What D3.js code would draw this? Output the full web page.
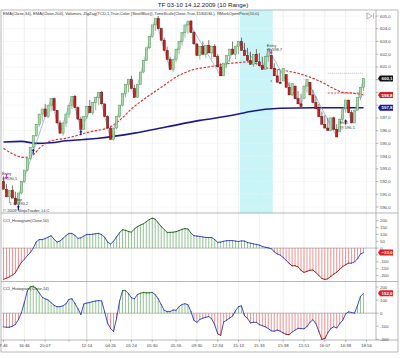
<!DOCTYPE html>
<html><head><meta charset="utf-8">
<script src="https://cdn.jsdelivr.net/npm/d3@7"></script>
<style>body{margin:0;background:#fff}svg{display:block;font-family:"Liberation Sans",Arial,sans-serif}</style>
</head><body><svg id="c" width="400" height="358"></svg>
<script>
// ---------- data ----------
const closes = [
 591.4,590.8,591.3,590.7,590.2,
 591.1,592.0,592.9,593.8,594.7,595.6,596.5,597.3,597.7,597.1,598.0,598.5,
 597.6,596.6,595.8,
 596.6,597.3,598.0,598.7,
 597.8,596.9,596.1,
 597.1,597.9,597.4,598.2,598.6,599.0,
 598.1,597.1,596.2,595.3,
 596.2,597.1,598.0,598.9,599.6,600.0,599.3,598.6,
 599.6,600.6,601.5,602.5,603.4,604.3,604.8,
 604.0,603.1,602.3,601.6,600.8,
 601.6,602.4,603.0,603.7,604.3,604.6,
 603.7,602.8,601.9,602.6,602.0,602.7,602.1,602.6,601.8,601.0,600.3,
 601.3,601.9,602.4,602.0,602.6,603.0,
 602.3,601.9,601.5,601.2,602.0,601.4,601.1,600.8,601.8,602.4,
 600.9,600.3,599.8,599.7,600.9,599.4,598.8,599.7,598.5,598.1,597.9,
 599.5,600.0,
 598.8,598.2,597.7,597.1,596.5,596.2,596.0,
 597.0,596.1,595.5,
 596.9,597.7,598.4,597.4,596.6,597.6,598.6,599.4,600.1
];
const ema34 = [[0,594.6],[7,593.9],[10,594.1],[12,594.6],[16,595.2],[21,595.4],[29,595.9],[36,596.3],[39,596.8],[43,597.7],[48,598.6],[53,599.4],[58,600.2],[64,600.8],[69,601.0],[77,601.3],[83,601.4],[87,601.0],[92,600.8],[99,600.5],[103,600.2],[107,599.8],[111,599.3],[114,599.0],[117,598.95],[121,598.8]];
const ema204 = [[0,595.1],[6,595.15],[11,595.0],[16,595.05],[21,595.2],[27,595.3],[32,595.4],[44,595.8],[55,596.3],[66,596.8],[77,597.2],[83,597.5],[93,597.75],[104,597.8],[121,597.8]];
const zigzag = [[4,590.2],[16,598.5],[19,595.8],[23,598.7],[26,596.1],[32,599.0],[36,595.3],[42,600.0],[44,598.6],[51,604.8],[56,600.8],[62,604.6],[73,600.3],[79,603.0],[87,600.8],[89,602.4],[100,597.9],[102,600.0],[112,595.5],[115,598.4],[117,596.6],[121,600.1]];
const cci50 = [-228,-220,-210,-197,-180,-140,-105,-82,-56,-33,0,45,62,62,70,80,90,65,44,52,70,92,107,107,93,71,75,88,100,100,101,105,107,98,79,44,30,50,82,112,134,130,121,116,140,156,168,177,193,208,219,211,184,158,136,115,115,116,120,128,137,142,140,110,91,88,85,81,78,77,77,62,42,44,50,54,55,55,51,48,53,51,41,36,31,27,21,12,6,2,-4,-27,-42,-51,-69,-89,-112,-129,-129,-137,-163,-177,-170,-162,-160,-178,-200,-222,-229,-224,-207,-190,-176,-155,-135,-121,-110,-110,-100,-78,-43,-33];
const cci14 = [-105,-108,-108,-100,-86,-50,2,80,170,202,206,190,155,122,110,101,80,60,49,50,56,72,105,110,75,35,-10,70,78,81,89,93,96,93,10,-78,-118,-140,-40,90,172,172,150,118,110,142,152,158,155,156,158,142,110,66,22,12,12,24,22,50,66,72,64,12,-55,-70,-48,-38,-32,-26,-44,-90,-158,-170,-68,-54,-38,-22,20,50,55,-20,-40,-75,-70,-70,-88,-96,-104,-118,-135,-138,-130,-138,-152,-162,-164,-145,-130,-116,-118,-120,-103,-70,-50,-80,-140,-200,-195,-150,-118,-104,-113,-80,-55,-5,10,5,0,60,128,152];
const priceTicks = [605,604,603,602,601,600,599,598,597,596,595,594,593,592,591,590];
const cci50Ticks = [200,150,100,50,0,-50,-100,-150,-200];
const cci14Ticks = [200,100,0,-100,-200];
const timeTickBars = [0,7,14,22,28,36,43,50,58,65,72,79,86,94,101,108,115,122];
const timeTickLabels = ["7:46","16:46","20:07","","12:14","04:26","05:24","05:30","05:56","09:30","12:34","15:13","15:33","15:38","15:51","16:07","16:38","18:56"];
const sessionBand = [80,90];
const markLines = [{from:109,to:121,price:600.5,kind:"grey"},{from:109,to:121,price:598.95,kind:"red"}];
const titleText = "TF 03-10  14.12.2009 (10 Range)";
const headerText = "EMA(Close,34), EMA(Close,204), Volumes, ZigZag(TCD,1,True,Color (SteelBlue)), TimeScale(Close,True,1530DSL), RMarkOpenPrice(10,0)";

// ---------- layout ----------
const svg = d3.select("#c");
const X0 = 2, X1 = 376;
const main = {y0:10, y1:213}, p1 = {y0:213, y1:281}, p2 = {y0:282, y1:340};
const x = d3.scaleLinear().domain([0,121]).range([3.5,363.5]);
const y = d3.scaleLinear().domain([590,605]).range([207,16]);
const y1 = d3.scaleLinear().domain([-200,200]).range([275.5,220.7]);
const y2 = d3.scaleLinear().domain([-200,200]).range([339.3,287]);
const fmt = v => d3.format(".1f")(v).replace(".", ",");

// title
svg.append("text").attr("x",203).attr("y",7).attr("text-anchor","middle")
  .attr("font-size",6.2).attr("fill","#222").text(titleText);

// session band
svg.append("rect").attr("x",x(sessionBand[0])-1.5).attr("y",main.y0)
  .attr("width",x(sessionBand[1])-x(sessionBand[0])+3).attr("height",main.y1-main.y0)
  .attr("fill","#c9f5f8");

// grids
const g = svg.append("g");
g.selectAll(".vg").data(timeTickBars).join("line")
  .attr("x1",d=>x(d)).attr("x2",d=>x(d)).attr("y1",main.y0).attr("y2",p2.y1)
  .attr("stroke",(d,i)=> i===4 ? "#b5b5b5" : "#e6e6e6").attr("stroke-width",0.6);
g.selectAll(".hg").data(priceTicks).join("line")
  .attr("x1",X0).attr("x2",X1).attr("y1",d=>y(d)).attr("y2",d=>y(d))
  .attr("stroke","#efefef").attr("stroke-width",0.5);

// frames
const frame = svg.append("g").attr("fill","none").attr("stroke","#9a9a9a").attr("stroke-width",0.7);
frame.append("rect").attr("x",1).attr("y",main.y0).attr("width",397).attr("height",352-main.y0);
[main.y1, p2.y0-0.5, p2.y1].forEach(v=>frame.append("line").attr("x1",1).attr("x2",398).attr("y1",v).attr("y2",v));
frame.append("line").attr("x1",X1).attr("x2",X1).attr("y1",main.y0).attr("y2",p2.y1);

// header text
svg.append("text").attr("x",3).attr("y",15).attr("font-size",4).attr("fill","#333")
  .attr("textLength",256).attr("lengthAdjust","spacingAndGlyphs").text(headerText);

// mark lines
markLines.forEach(m=>{
  svg.append("line").attr("x1",x(m.from)).attr("x2",x(m.to)).attr("y1",y(m.price)).attr("y2",y(m.price))
    .attr("stroke", m.kind==="grey" ? "#a8b0a8" : "#e03030").attr("stroke-width",0.8)
    .attr("stroke-dasharray", m.kind==="grey" ? "1,1" : "2,1.2");
});

// EMA 204
const line = d3.line().x(d=>x(d[0])).y(d=>y(d[1])).curve(d3.curveMonotoneX);
svg.append("path").attr("d",line(ema204)).attr("fill","none").attr("stroke","#1a1a8c").attr("stroke-width",1.6);
// EMA 34
svg.append("path").attr("d",line(ema34)).attr("fill","none").attr("stroke","#e02828").attr("stroke-width",1.1).attr("stroke-dasharray","2.5,1.5");

// zigzag
svg.append("path").attr("d",d3.line().x(d=>x(d[0])).y(d=>y(d[1]))(zigzag))
  .attr("fill","none").attr("stroke","#7aa6cc").attr("stroke-width",0.7);

// candles
const bars = closes.map((c,i)=>{
  const prev = i ? closes[i-1] : closes[0]+0.6;
  const up = c >= prev;
  const high = up ? c : c+1.0;
  const low = up ? c-1.0 : c;
  const open = up ? Math.max(low, prev) : Math.min(high, prev);
  return {i,c,open,high,low,up};
});
const cg = svg.append("g");
cg.selectAll(".w").data(bars).join("line")
  .attr("x1",d=>x(d.i)).attr("x2",d=>x(d.i)).attr("y1",d=>y(d.high)).attr("y2",d=>y(d.low))
  .attr("stroke",d=>d.up?"#4f7f4f":"#3a1010").attr("stroke-width",0.6);
cg.selectAll(".b").data(bars).join("rect")
  .attr("x",d=>x(d.i)-1.1).attr("width",2.2)
  .attr("y",d=>y(Math.max(d.open,d.c))).attr("height",d=>Math.max(0.6,Math.abs(y(d.open)-y(d.c))))
  .attr("fill",d=>d.up?"#a6dca6":"#d41c1c").attr("stroke",d=>d.up?"#4f8a4f":"#401010").attr("stroke-width",0.45);

// markers
function upArrow(px,py){
  svg.append("path").attr("d",`M${px},${py} l-1.6,2.4 h1 v3 h1.2 v-3 h1 z`).attr("fill","#10108a");
}
function downArrow(px,py,col){
  svg.append("path").attr("d",`M${px},${py} l-1.6,-2.4 h1 v-3 h1.2 v3 h1 z`).attr("fill",col);
}
upArrow(x(5), y(590.2)+0.5);
upArrow(x(10), y(594.6));
upArrow(x(26), y(596.1)+0.5);
upArrow(x(115), y(596.9));
downArrow(x(1), y(592.4)+3, "#e020c0");
downArrow(x(90), y(602.4)-0.5+6, "#e020c0");
svg.append("circle").attr("cx",x(90)).attr("cy",y(599.9)).attr("r",0.7).attr("fill","#e020c0");

// annotations
const ann = [
  {t:"Entry", i:-0.5, p:592.5}, {t:"@ 590,5", i:-0.5, p:592.15},
  {t:"Stop", i:3.5, p:590.5}, {t:"1 @ 590,2", i:2, p:590.15},
  {t:"Entry", i:88.5, p:602.6}, {t:"@ 598,7", i:88.5, p:602.25},
  {t:"Ent1", i:113, p:596.5}, {t:"@ 596,1", i:113, p:596.15}
];
svg.selectAll(".ann").data(ann).join("text").attr("x",d=>x(d.i)).attr("y",d=>y(d.p))
  .attr("font-size",4).attr("fill","#333").text(d=>d.t);
svg.append("text").attr("x",3).attr("y",212).attr("font-size",4.2).attr("fill","#333").text("© 2009 NinjaTrader, LLC");

// tags positions (price panel)
const tagsMain = [
  {v:closes[closes.length-1], col:"#111"},
  {v:ema34[ema34.length-1][1], col:"#d42020"},
  {v:ema204[ema204.length-1][1], col:"#1414a0"}
];
const freeTick = (ys, tagVals) => d => tagVals.every(t => Math.abs(ys(d)-ys(t)) > 4.5);

// price axis
const ax = svg.append("g");
ax.selectAll("line").data(priceTicks).join("line").attr("x1",X1).attr("x2",X1+2.5)
  .attr("y1",d=>y(d)).attr("y2",d=>y(d)).attr("stroke","#777").attr("stroke-width",0.5);
ax.selectAll("text").data(priceTicks.filter(freeTick(y, tagsMain.map(t=>t.v)))).join("text")
  .attr("x",X1+4).attr("y",d=>y(d)+1.5)
  .attr("font-size",4.3).attr("fill","#444").text(d=>fmt(d));

function tag(py, txt, col){
  const gx = X1+2;
  svg.append("path").attr("d",`M${gx},${py} l2,-3 h13 v6 h-13 z`).attr("fill",col);
  svg.append("text").attr("x",gx+9).attr("y",py+1.6).attr("text-anchor","middle")
    .attr("font-size",4.4).attr("font-weight","bold").attr("fill","#fff").text(txt);
}
tagsMain.forEach(t=>tag(y(t.v), fmt(t.v), t.col));

// CCI panels
function cciPanel(vals, ys, ticks, thr, label, labelY){
  const pg = svg.append("g");
  const last = vals[vals.length-1];
  pg.append("line").attr("x1",X0).attr("x2",X1).attr("y1",ys(0)).attr("y2",ys(0)).attr("stroke","#8a8a8a").attr("stroke-width",0.6);
  pg.selectAll(".h").data(vals).join("line")
    .attr("x1",(d,i)=>x(i)).attr("x2",(d,i)=>x(i)).attr("y1",ys(0)).attr("y2",d=>ys(d))
    .attr("stroke",d=>d>=0?"#46a046":"#e04848").attr("stroke-width",0.6);
  for(let i=1;i<vals.length;i++){
    const m=(vals[i]+vals[i-1])/2;
    const col = m>thr ? "#146414" : (m< -thr ? "#9a1010" : "#2a3ab8");
    pg.append("line").attr("x1",x(i-1)).attr("x2",x(i)).attr("y1",ys(vals[i-1])).attr("y2",ys(vals[i]))
      .attr("stroke",col).attr("stroke-width",0.9).attr("stroke-linecap","round");
  }
  pg.selectAll(".tk").data(ticks).join("line").attr("x1",X1).attr("x2",X1+2.5)
    .attr("y1",d=>ys(d)).attr("y2",d=>ys(d)).attr("stroke","#777").attr("stroke-width",0.5);
  pg.selectAll(".tl").data(ticks.filter(freeTick(ys,[last]))).join("text").attr("x",X1+4).attr("y",d=>ys(d)+1.5)
    .attr("font-size",4.3).attr("fill","#444").text(d=>d);
  pg.append("text").attr("x",3).attr("y",labelY).attr("font-size",4).attr("fill","#333").text(label);
  const gx = X1+2, py = ys(last);
  pg.append("path").attr("d",`M${gx},${py} l2,-3 h13 v6 h-13 z`).attr("fill","#e02020");
  pg.append("text").attr("x",gx+9).attr("y",py+1.6).attr("text-anchor","middle")
    .attr("font-size",4.4).attr("font-weight","bold").attr("fill","#fff").text(d3.format(".1f")(last).replace(".",","));
}
cciPanel(cci50, y1, cci50Ticks, 110, "CCI_Histogram(Close,50)", 222);
cciPanel(cci14, y2, cci14Ticks, 150, "CCI_Histogram(Close,14)", 290);

// time axis
const tg = svg.append("g");
tg.selectAll("line").data(timeTickBars).join("line").attr("x1",d=>x(d)).attr("x2",d=>x(d))
  .attr("y1",p2.y1).attr("y2",p2.y1+2).attr("stroke","#777").attr("stroke-width",0.5);
tg.selectAll("text").data(timeTickBars).join("text").attr("x",d=>x(d)).attr("y",347)
  .attr("text-anchor","middle").attr("font-size",4.3).attr("fill","#444").text((d,i)=>timeTickLabels[i]);

// scroll icon
svg.append("path").attr("d","M367,13 L372,16 L367,19 Z M373.5,13 V19").attr("fill","none").attr("stroke","#888").attr("stroke-width",0.6);
</script></body></html>
